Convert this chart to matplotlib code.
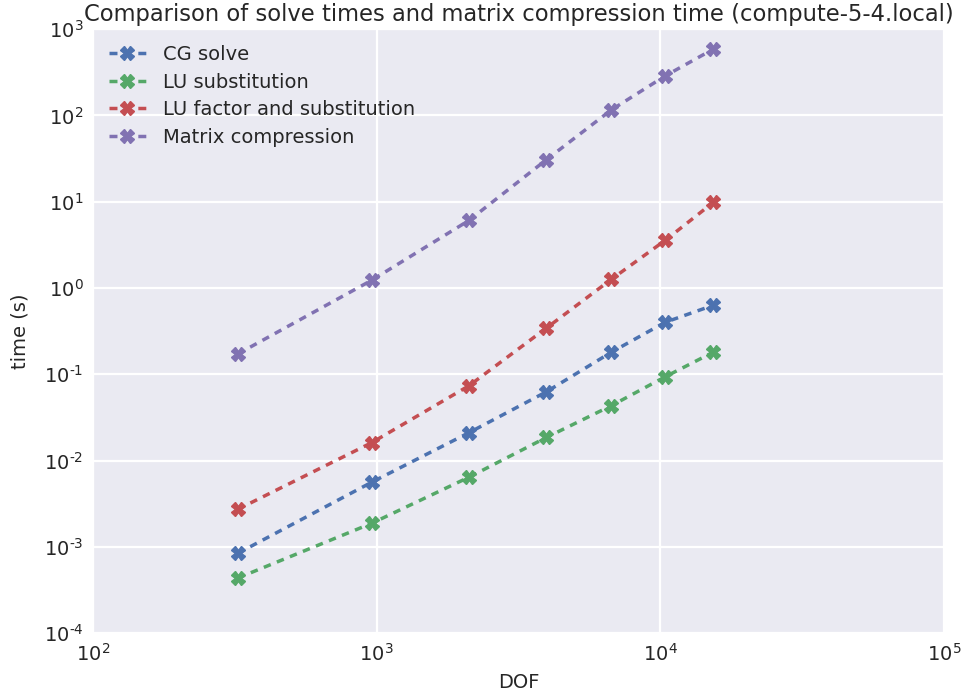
import math
import matplotlib
matplotlib.use("Agg")
import matplotlib.pyplot as plt
from matplotlib.lines import Line2D
from matplotlib.ticker import FuncFormatter
import seaborn as sns

sns.set_style("darkgrid")
plt.rcParams['font.family'] = ['DejaVu Sans']

dof = [324, 961, 2116, 3969, 6724, 10404, 15376]
cg_solve = [8.4e-4, 5.6e-3, 0.021, 0.0626, 0.18, 0.40, 0.63]
lu_subst = [4.34e-4, 1.87e-3, 6.4e-3, 0.0185, 0.0432, 0.0933, 0.18]
lu_factor = [2.72e-3, 0.0161, 0.0735, 0.343, 1.26, 3.56, 9.8]
compression = [0.172, 1.23, 6.07, 30.7, 116, 287, 587]

labels = ['CG solve', 'LU substitution', 'LU factor and substitution', 'Matrix compression']
colors = ['#4C72B0', '#55A868', '#C44E52', '#8172B2']


def pow10(v, pos):
    e = int(round(math.log10(v)))
    if e < 0:
        return r'$10^{\text{-}%d}$' % (-e)
    return r'$10^{%d}$' % e


fig = plt.figure(figsize=(9.66, 6.96), dpi=100)
ax = fig.add_axes([0.0963, 0.0905, 0.8807, 0.8675])

handles = []
for y, lab, c in zip([cg_solve, lu_subst, lu_factor, compression], labels, colors):
    ax.plot(dof, y, linestyle=(0, (2.15, 1.9)), marker='X', color=c, lw=2.5, ms=10)
    # legend key: short dash, marker, short dash
    handles.append(Line2D([], [], color=c, lw=2.5, marker='X', ms=10,
                          linestyle=(0, (2.3, 6.0))))

ax.set_xscale('log')
ax.set_yscale('log')
ax.set_xlim(1e2, 1e5)
ax.set_ylim(1e-4, 1e3)
ax.minorticks_off()
ax.xaxis.set_major_formatter(FuncFormatter(pow10))
ax.yaxis.set_major_formatter(FuncFormatter(pow10))
ax.grid(color='white', lw=1.6)
ax.tick_params(labelsize=14, colors='#262626')
ax.set_xlabel('DOF', fontsize=14, color='#262626', labelpad=6)
ax.set_ylabel('time (s)', fontsize=14, color='#262626')
ax.yaxis.set_label_coords(-0.075, 0.5)
ax.set_title('Comparison of solve times and matrix compression time (compute-5-4.local)',
             fontsize=16.3, color='#262626')
ax.legend(handles, labels, loc='upper left', fontsize=14, frameon=False, handlelength=1.9,
          borderaxespad=0.5, borderpad=0.3, labelspacing=0.45, handletextpad=0.9)

fig.savefig('out.png', dpi=100)
